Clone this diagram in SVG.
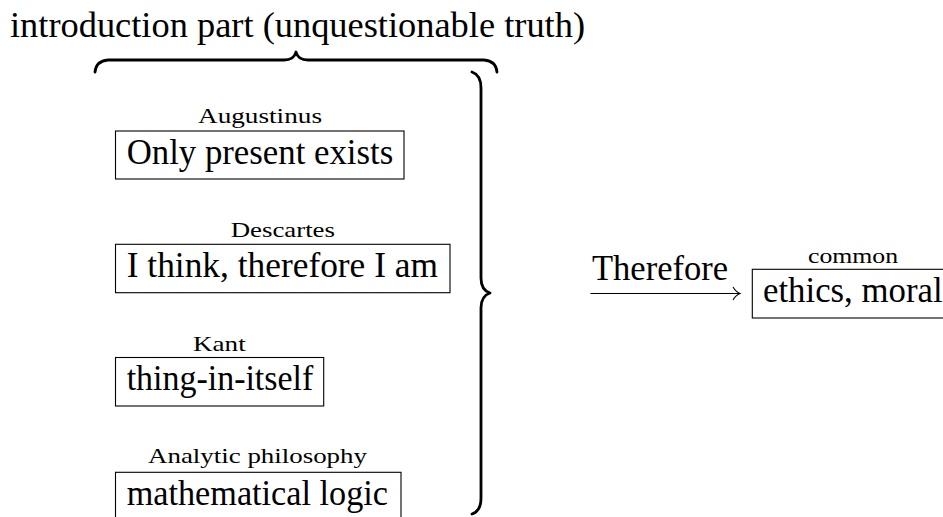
<svg xmlns="http://www.w3.org/2000/svg" width="943" height="517" viewBox="0 0 943 517">
<defs>
<style>
text{font-family:"Liberation Serif","Times New Roman",serif;fill:#000}
.main{font-size:35px}
.lab{font-size:21.5px}
.box{fill:none;stroke:#000;stroke-width:1.1}
.brace{fill:none;stroke:#000;stroke-width:2.8;stroke-linecap:round;stroke-linejoin:round}
.conn{fill:none;stroke:#000;stroke-width:1.1}
</style>
</defs>
<rect width="943" height="517" fill="#fff"/>
<g id="title">
<text class="main" font-family="Liberation Serif, serif" x="10" y="37" textLength="575" lengthAdjust="spacingAndGlyphs">introduction part (unquestionable truth)</text>
</g>
<g id="top-brace">
<path class="brace" d="M95,72 Q96,61 108,60 L284,60 Q294,60 296,52 Q298,60 308,60 L484,60 Q496,61 497,72"/>
</g>
<g id="right-brace">
<path class="brace" d="M472,72 Q481,75 481,88 L481,278 Q481,290 490,293 Q481,296 481,308 L481,498 Q481,511 472,514"/>
</g>
<g id="augustinus">
<text class="lab" x="198" y="123.3" textLength="124" lengthAdjust="spacingAndGlyphs">Augustinus</text>
<rect class="box" x="115.5" y="131" width="288.5" height="48"/>
<text class="main" font-family="Liberation Serif, serif" x="126.7" y="164" textLength="266.5" lengthAdjust="spacingAndGlyphs">Only present exists</text>
</g>
<g id="descartes">
<text class="lab" x="230.7" y="236.7" textLength="104.3" lengthAdjust="spacingAndGlyphs">Descartes</text>
<rect class="box" x="115.5" y="244.3" width="334.5" height="48.4"/>
<text class="main" x="126.7" y="277" textLength="311.3" lengthAdjust="spacingAndGlyphs">I think, therefore I am</text>
</g>
<g id="kant">
<text class="lab" x="193" y="351" textLength="52.7" lengthAdjust="spacingAndGlyphs">Kant</text>
<rect class="box" x="115.5" y="357.5" width="208.2" height="48.5"/>
<text class="main" x="126.7" y="390.3" textLength="186.6" lengthAdjust="spacingAndGlyphs">thing-in-itself</text>
</g>
<g id="analytic">
<text class="lab" x="148" y="463.3" textLength="219" lengthAdjust="spacingAndGlyphs">Analytic philosophy</text>
<rect class="box" x="115.5" y="472.3" width="285.5" height="49"/>
<text class="main" x="126.7" y="505.3" textLength="261.3" lengthAdjust="spacingAndGlyphs">mathematical logic</text>
</g>
<g id="ethics">
<text class="lab" x="808" y="262.7" textLength="90" lengthAdjust="spacingAndGlyphs">common</text>
<rect class="box" x="752.3" y="269.3" width="220" height="48.7"/>
<text class="main" x="763" y="302.3" textLength="179.6" lengthAdjust="spacingAndGlyphs">ethics, moral</text>
</g>
<g id="connectors">
<text class="main" x="592" y="280" textLength="136" lengthAdjust="spacingAndGlyphs">Therefore</text>
<line class="conn" x1="590.5" y1="293.5" x2="739" y2="293.5"/>
<path class="conn" d="M733,287 Q736,292 740,293.5 Q736,295 733,300"/>
</g>
</svg>
